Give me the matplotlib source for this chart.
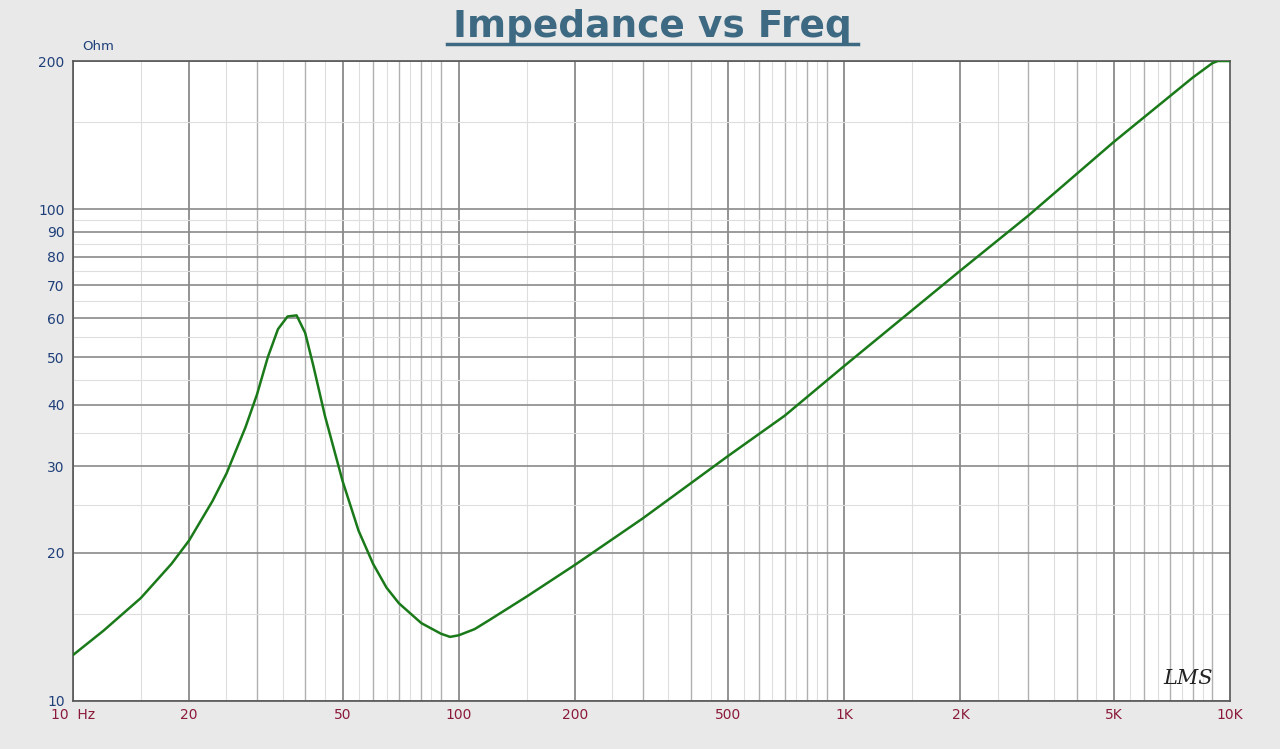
import matplotlib
matplotlib.use("Agg")
import matplotlib.pyplot as plt
import numpy as np

freq = [10, 12, 15, 18, 20, 23, 25, 28, 30, 32, 34, 36, 38, 40, 42, 45, 50, 55, 60, 65, 70, 80, 90, 95, 100, 110, 120, 150, 200, 300, 500, 700, 1000, 2000, 3000, 5000, 8000, 9000, 9300, 10000]
imp = [12.4, 13.9, 16.2, 19.0, 21.2, 25.5, 29.0, 36.0, 42.0, 50.0, 57.0, 60.5, 60.8, 56.0, 48.0, 38.0, 28.0, 22.2, 19.0, 17.0, 15.8, 14.4, 13.7, 13.5, 13.6, 14.0, 14.6, 16.3, 18.9, 23.5, 31.5, 38.0, 48.0, 75.0, 97.0, 137.0, 185.0, 198.0, 200.0, 200.0]

xt = [10, 20, 50, 100, 200, 500, 1000, 2000, 5000, 10000]
xtl = ["10  Hz", "20", "50", "100", "200", "500", "1K", "2K", "5K", "10K"]
yt = [10, 20, 30, 40, 50, 60, 70, 80, 90, 100, 200]
ytl = [str(v) for v in yt]

fig = plt.figure(figsize=(12.8, 7.49), dpi=100, facecolor="#e9e9e9")
ax = fig.add_axes([73/1280, 1-701/749, (1230-73)/1280, (701-61)/749])
ax.set_facecolor("white")
ax.set_xscale("log"); ax.set_yscale("log")
ax.set_xlim(10, 10000); ax.set_ylim(10, 200)

for d in [10, 100, 1000]:
    for m in range(1, 10):
        v = d*m
        lw, c = (1.3, "#8a8a8a") if m in (1, 2, 5) else (1.0, "#b0b0b0")
        ax.axvline(v, color=c, lw=lw, zorder=0)
        if m < 9:
            ax.axvline(v*1.5 if m == 1 else v+d*0.5, color="#dedede", lw=0.8, zorder=0)
for v in [10, 20, 30, 40, 50, 60, 70, 80, 90, 100, 200]:
    ax.axhline(v, color="#8a8a8a", lw=1.2, zorder=0)
for v in [15, 25, 35, 45, 55, 65, 75, 85, 95, 150]:
    ax.axhline(v, color="#dedede", lw=0.8, zorder=0)

ax.plot(freq, imp, color="#1a7a1a", lw=1.8, zorder=3)

ax.set_xticks(xt); ax.set_xticklabels(xtl)
ax.set_yticks(yt); ax.set_yticklabels(ytl)
ax.minorticks_off()
ax.tick_params(axis="x", colors="#8b1a3a", length=0, labelsize=10, pad=5)
ax.tick_params(axis="y", colors="#1f3f7a", length=0, labelsize=10, pad=6)
for lab in ax.get_xticklabels(): lab.set_color("#8b1a3a")
for lab in ax.get_yticklabels(): lab.set_color("#1f3f7a")
for s in ax.spines.values():
    s.set_color("#555555"); s.set_linewidth(1.2)

fig.text(82/1280, 1-47/749, "Ohm", color="#1f3f7a", fontsize=9.5, va="center")
fig.text(652/1280, 1-37/749, "Impedance vs Freq", color="#3d6a82", fontsize=27,
         fontweight="bold", ha="center", va="baseline", family="DejaVu Sans")
fig.add_artist(plt.Line2D([447/1280, 858/1280], [1-44/749]*2, color="#3d6a82", lw=2.5))
fig.text(1188/1280, 1-678/749, "LMS", fontsize=15, style="italic", ha="center",
         va="center", color="#222222", family="DejaVu Serif")
fig.savefig("out.png", dpi=100, facecolor=fig.get_facecolor())
